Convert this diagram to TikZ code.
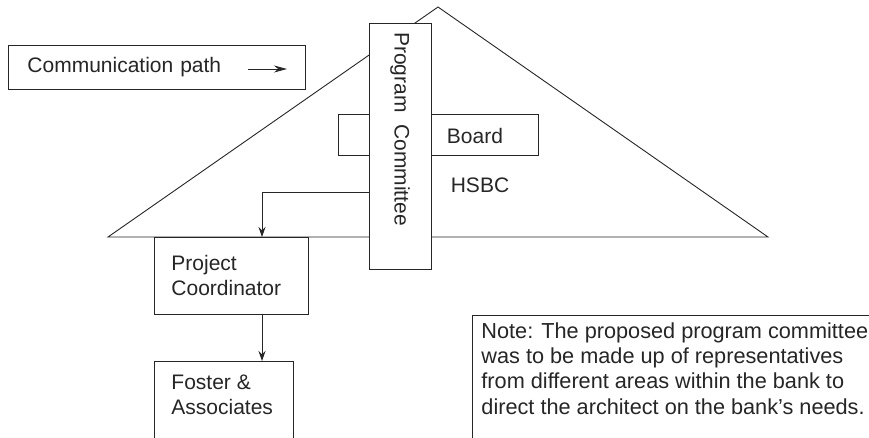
\documentclass[tikz,border=0pt]{standalone}
\usepackage{fontspec}
\setmainfont{Liberation Sans}
\usetikzlibrary{arrows.meta,positioning}
\tikzset{
	every node/.style = {inner sep=0pt, font=\fontsize{21}{25}\selectfont},
	box/.style = {draw, rectangle, anchor=north west, fill=white},
	flow/.style = {-{Stealth[length=10pt,width=7pt]}}
}

\begin{document}
\begin{tikzpicture}[x=1pt, y=-1pt, line width=0.9pt, black!85]
	\useasboundingbox (0,0) rectangle (869,437);
	\clip (0,0) rectangle (869,437);
	% the bank as a roof
	\draw (108,237) -- (438,7) -- (768,237) -- cycle;
	\node (board) [box, minimum width=200pt, minimum height=41pt] at (338,114) {};
	\node (pcm) [box, minimum width=62pt, minimum height=246pt] at (369,23) {};
	\node (pcmtext) [rotate=-90] at (400,129) {Program~~Committee};
	\node (boardtext) at (475,136) {Board};
	\node (hsbc) at (480,185) {HSBC};
	% legend
	\node (cp) [box, minimum width=297pt, minimum height=44pt, text width=259pt, inner xsep=19pt, align=left] at (8,45) {Communication path};
	\coordinate (cparrow) at (248,69);
	\draw [-{Stealth[length=13pt,width=7pt]}, line width=0.8pt] (cparrow) -- ++(39,0);
	% chain below the roof
	\node (pc) [box, minimum width=154pt, minimum height=77pt, text width=120pt, inner xsep=17pt, align=left] at (154,237) {Project\\Coordinator};
	\node (fa) [box, minimum width=139pt, minimum height=90pt] at (154,361) {};
	\node (fatext) [below right=13.5pt and 17pt of fa.north west, align=left] {Foster \&\\Associates};
	\node (notebox) [box, minimum width=420pt, minimum height=140pt] at (472,315) {};
	\node (note) [below right=7pt and 9pt of notebox.north west, align=left, font=\fontsize{21.7}{25.3}\selectfont] {Note: The proposed program committee\\was to be made up of representatives\\from different areas within the bank to\\direct the architect on the bank’s needs.};
	\coordinate (col) at (262,0);
	\coordinate (tap) at (0,192);
	\draw [flow] (pcm.west |- tap) -| (col |- pc.north);
	\draw [flow] (col |- pc.south) -- (col |- fa.north);
\end{tikzpicture}
\end{document}
